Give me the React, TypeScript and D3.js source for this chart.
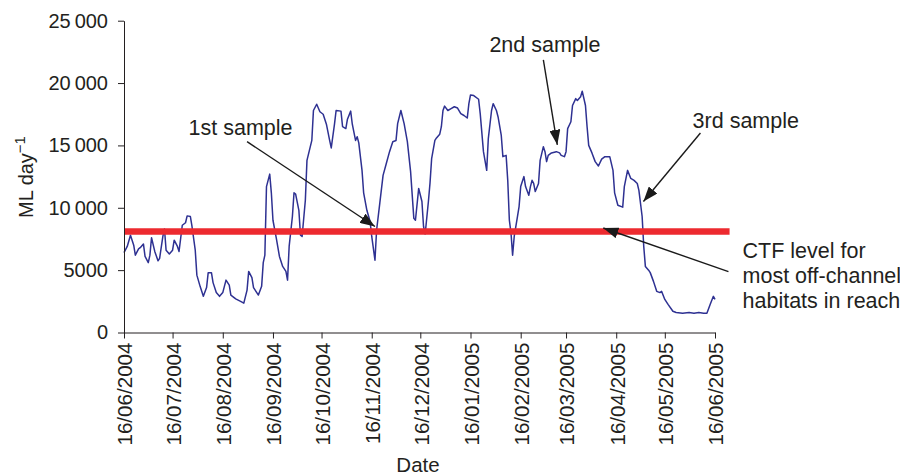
import React, { useEffect, useRef } from 'react';
import * as d3 from 'd3';

// Flow record, days counted from 16/06/2004, values in ML/day
const days = [
  0, 2, 4, 6, 7, 9, 10, 12, 13, 15, 16, 17, 19, 21, 22, 24, 25, 26, 28, 30,
  31, 33, 34, 36, 38, 39, 41, 42, 44, 45, 47, 49, 51, 52, 54, 55, 57, 59, 61, 62,
  63, 65, 66, 69, 72, 74, 76, 77, 79, 80, 83, 85, 86, 87, 88, 90, 91, 92, 94, 96,
  98, 100, 101, 102, 104, 105, 106, 108, 109, 110, 112, 113, 116, 117, 119, 121, 123, 125, 127, 128,
  130, 131, 134, 135, 137, 138, 140, 141, 143, 144, 145, 147, 148, 150, 152, 153, 155, 156, 158, 160,
  162, 164, 166, 168, 169, 171, 173, 175, 177, 179, 180, 182, 184, 185, 186, 188, 189, 190, 192, 193,
  195, 196, 197, 198, 200, 202, 204, 206, 208, 210, 212, 213, 214, 216, 219, 220, 222, 224, 225, 227,
  228, 230, 231, 233, 234, 236, 237, 238, 239, 240, 241, 243, 244, 245, 247, 248, 250, 251, 252, 253,
  254, 256, 257, 259, 260, 261, 262, 264, 267, 269, 270, 272, 273, 274, 276, 277, 279, 280, 282, 283,
  285, 286, 287, 289, 291, 293, 295, 297, 300, 302, 303, 305, 308, 309, 311, 313, 315, 317, 318, 320,
  321, 322, 324, 325, 327, 329, 331, 332, 334, 336, 339, 341, 345, 349, 352, 355, 358, 360, 362, 364,
  365,
];
const flow = [
  6400, 6900, 7800, 7000, 6200, 6700, 6800, 7100, 6100, 5600, 6200, 7600, 6500, 5750, 5950, 7700, 8300, 6600, 6300, 6600,
  7400, 6900, 6500, 8600, 8800, 9350, 9300, 8500, 6600, 4600, 3700, 2900, 3600, 4800, 4800, 4000, 3200, 2900, 3200, 3700,
  4200, 3800, 3000, 2700, 2500, 2350, 3400, 4900, 4400, 3600, 3000, 3700, 5600, 6200, 11700, 12700, 11200, 9000, 7600, 6100,
  5300, 4900, 4200, 6900, 9300, 11200, 11100, 9800, 7800, 7700, 10600, 13800, 15400, 17800, 18300, 17700, 17500, 16700, 15400, 14800,
  16700, 17800, 17750, 16500, 16350, 17100, 17750, 16700, 15400, 15700, 15200, 13000, 11200, 9800, 8900, 7700, 5800, 8200, 10400, 12600,
  13550, 14500, 15300, 15400, 16750, 17800, 16750, 15300, 12900, 9150, 9000, 11550, 10500, 8500, 7900, 10500, 12000, 13950, 15400, 15600,
  15900, 16500, 17800, 18150, 17800, 17950, 18100, 18000, 17550, 17400, 17200, 18350, 19050, 19000, 18700, 17550, 14500, 13000, 15550, 17800,
  18350, 17800, 17300, 15800, 14100, 14200, 12200, 9000, 8000, 6200, 7700, 9300, 10100, 11700, 12500, 11700, 11000, 11700, 12200, 11950,
  11300, 11950, 13800, 14900, 14500, 13700, 14200, 14400, 14500, 14400, 14200, 14100, 14500, 16350, 16900, 18200, 18750, 18600, 18900, 19350,
  18200, 16500, 15000, 14400, 13700, 13350, 13900, 14100, 14100, 13000, 11200, 10200, 10050, 11700, 13000, 12350, 12200, 11950, 11400, 9300,
  6900, 5300, 5000, 4800, 4100, 3300, 3200, 3300, 2650, 2250, 1700, 1600, 1550, 1600, 1550, 1600, 1550, 1550, 2250, 2900,
  2650,
];

const tickLabels = [
  '16/06/2004', '16/07/2004', '16/08/2004', '16/09/2004', '16/10/2004', '16/11/2004', '16/12/2004',
  '16/01/2005', '16/02/2005', '16/03/2005', '16/04/2005', '16/05/2005', '16/06/2005',
];
const yTicks = [0, 5000, 10000, 15000, 20000, 25000];

const ctfLevel = 8100;
const ctfEndDay = 374;

// annotations: label position and arrow from/to, as [day, flow]
const annotations = [
  { lines: ['1st sample'], at: [72, 15850], from: [76, 15300], to: [155, 8500], anchor: 'middle' },
  { lines: ['2nd sample'], at: [260, 22500], from: [259, 21850], to: [267.6, 15050], anchor: 'middle' },
  { lines: ['3rd sample'], at: [384, 16400], from: [356, 16000], to: [320.8, 10500], anchor: 'middle' },
  { lines: ['CTF level for', 'most off-channel', 'habitats in reach'], at: [382, 5950], from: [373.3, 4880], to: [296, 8380], anchor: 'start' },
];

const FONT = '"Liberation Sans", Arial, Helvetica, sans-serif';

const App: React.FC = () => {
  const svgRef = useRef<SVGSVGElement>(null);

  useEffect(() => {
    if (!svgRef.current) return;
    const svg = d3.select(svgRef.current);
    svg.selectAll('*').remove();

    const parse = d3.timeParse('%d/%m/%Y');
    const start = parse(tickLabels[0])!;
    const end = parse(tickLabels[tickLabels.length - 1])!;
    const dayDate = (d: number) => new Date(start.getTime() + d * 86400000);

    const x = d3.scaleTime().domain([start, end]).range([124, 715]);
    const y = d3.scaleLinear().domain([0, 25000]).range([332.5, 20.7]);

    const fmt = (d: number) => (d >= 10000 ? d3.format(',')(d).replace(',', '\u2009') : String(d));

    svg.append('defs').append('marker')
      .attr('id', 'arrow')
      .attr('viewBox', '0 0 15 11')
      .attr('refX', 15)
      .attr('refY', 5.5)
      .attr('markerWidth', 15)
      .attr('markerHeight', 11)
      .attr('markerUnits', 'userSpaceOnUse')
      .attr('orient', 'auto')
      .append('path')
      .attr('d', 'M0,0 L15,5.5 L0,11 Z')
      .attr('fill', '#1a1a1a');

    // Flow line
    const pts = days.map((d, i) => [dayDate(d), flow[i]] as [Date, number]);
    svg.append('path')
      .datum(pts)
      .attr('fill', 'none')
      .attr('stroke', '#2e3192')
      .attr('stroke-width', 1.5)
      .attr('stroke-linejoin', 'round')
      .attr('d', d3.line<[Date, number]>().x(d => x(d[0])).y(d => y(d[1])));

    // CTF level
    svg.append('line')
      .attr('x1', x(start)).attr('x2', x(dayDate(ctfEndDay)))
      .attr('y1', y(ctfLevel)).attr('y2', y(ctfLevel))
      .attr('stroke', '#ed2a2f')
      .attr('stroke-width', 6.5);

    // Axes
    const xAxis = svg.append('g')
      .attr('transform', `translate(0,${y(0)})`)
      .call(d3.axisBottom(x)
        .tickValues(tickLabels.map(t => parse(t)!))
        .tickFormat((d, i) => tickLabels[i])
        .tickSize(6)
        .tickSizeOuter(0));

    const yAxis = svg.append('g')
      .attr('transform', `translate(${x(start)},0)`)
      .call(d3.axisLeft(y)
        .tickValues(yTicks)
        .tickFormat(d => fmt(+d))
        .tickSize(6)
        .tickSizeOuter(0)
        .tickPadding(10));

    svg.selectAll('g text')
      .attr('font-family', FONT)
      .attr('font-size', 20)
      .attr('fill', '#231f20');
    xAxis.selectAll('text')
      .attr('transform', 'rotate(-90)')
      .attr('text-anchor', 'end')
      .attr('x', -10)
      .attr('y', 0)
      .attr('dy', '0.38em')
      .attr('font-size', 20.6);
    yAxis.selectAll('text').attr('font-size', 20);
    svg.selectAll('.domain, .tick line').attr('stroke', '#231f20');

    // Axis titles
    svg.append('text')
      .attr('x', 418).attr('y', 472)
      .attr('text-anchor', 'middle')
      .attr('font-family', FONT).attr('font-size', 20.5).attr('fill', '#231f20')
      .text('Date');

    const yt = svg.append('text')
      .attr('transform', 'translate(33,177) rotate(-90)')
      .attr('text-anchor', 'middle')
      .attr('font-family', FONT).attr('font-size', 20).attr('fill', '#231f20');
    yt.append('tspan').text('ML day');
    yt.append('tspan').attr('dy', -8).attr('font-size', 15).text('\u22121');

    // Annotations
    annotations.forEach(a => {
      svg.append('line')
        .attr('x1', x(dayDate(a.from[0]))).attr('y1', y(a.from[1]))
        .attr('x2', x(dayDate(a.to[0]))).attr('y2', y(a.to[1]))
        .attr('stroke', '#1a1a1a')
        .attr('stroke-width', 1.4)
        .attr('marker-end', 'url(#arrow)');
      const t = svg.append('text')
        .attr('x', x(dayDate(a.at[0]))).attr('y', y(a.at[1]))
        .attr('text-anchor', a.anchor)
        .attr('font-family', FONT).attr('font-size', 21.5).attr('fill', '#231f20');
      a.lines.forEach((l, i) => {
        t.append('tspan')
          .attr('x', x(dayDate(a.at[0])))
          .attr('dy', i === 0 ? 0 : 25)
          .text(l);
      });
    });
  }, []);

  return (
    <svg
      ref={svgRef}
      width={900}
      height={475}
      style={{ position: 'absolute', left: 0, top: 0, background: '#fff' }}
    />
  );
};

export default App;
